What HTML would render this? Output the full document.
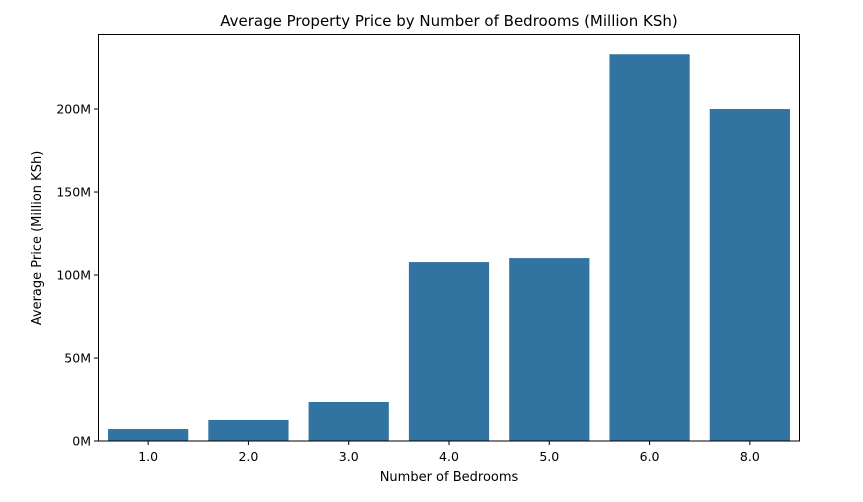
<!DOCTYPE html>
<html><head><meta charset="utf-8"><style>
body{margin:0;background:#fff;font-family:"Liberation Sans","DejaVu Sans",sans-serif;}
svg text{font-family:"DejaVu Sans","Liberation Sans",sans-serif;}
</style></head><body>
<svg id="chart" width="863" height="497" xmlns="http://www.w3.org/2000/svg">
<rect width="863" height="497" fill="#fff"/>
<text x="449" y="26" text-anchor="middle" font-size="15">Average Property Price by Number of Bedrooms (Million KSh)</text>
<g id="bars"></g><g id="yaxis"></g><g id="xaxis"></g>
<rect x="98.5" y="34.5" width="701" height="406.5" fill="none" stroke="#000" stroke-width="1"/>
<text x="449" y="481" text-anchor="middle" font-size="13">Number of Bedrooms</text>
<text transform="translate(41,238) rotate(-90)" text-anchor="middle" font-size="13">Average Price (Million KSh)</text>
</svg>
<script>
const categories=["1.0","2.0","3.0","4.0","5.0","6.0","8.0"];
const values=[7.2,12.7,23.5,107.8,110.2,233,200];
const yTicks=[0,50,100,150,200];
const yTickLabels=["0M","50M","100M","150M","200M"];
const L=98,R=800,T=34,B=441,yMax=245.2;
const ns="http://www.w3.org/2000/svg";
const y=v=>B-(v/yMax)*(B-T);
const slot=(R-L)/categories.length;
const x=i=>L+slot*i+slot/2;
function mk(t,a,p){const e=document.createElementNS(ns,t);for(const k in a)e.setAttribute(k,a[k]);p.appendChild(e);return e;}
const bars=document.getElementById('bars'),ya=document.getElementById('yaxis'),xa=document.getElementById('xaxis');
values.forEach((v,i)=>{
const r=mk('rect',{x:x(i)-slot*0.4,y:y(v),width:slot*0.8,height:B-y(v),fill:'#3274a1'},bars);


});
yTicks.forEach((t,i)=>{
const l=mk('line',{x1:L-4,x2:L,y1:y(t),y2:y(t),stroke:'#000'},ya);


const tx=mk('text',{x:L-7,y:y(t)+4.5,'text-anchor':'end','font-size':'12.5'},ya);
tx.textContent=yTickLabels[i];


});
categories.forEach((c,i)=>{
const l=mk('line',{x1:x(i),x2:x(i),y1:B,y2:B+4,stroke:'#000'},xa);


const tx=mk('text',{x:x(i),y:B+20,'text-anchor':'middle','font-size':'12.5'},xa);
tx.textContent=c;


});
</script>
</body></html>
